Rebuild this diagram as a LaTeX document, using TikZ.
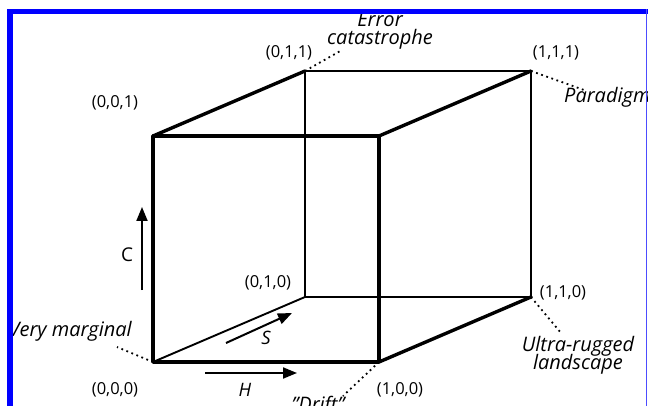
\documentclass[tikz,border=0pt]{standalone}
\usepackage{fontspec}
\setmainfont{Open Sans}
\usetikzlibrary{arrows.meta}
\newcommand\mynotefont{\fontsize{20}{18.5}\selectfont\itshape\lineskiplimit=-30pt\relax}
\begin{document}
\begin{tikzpicture}[x=1pt,y=-1pt,
  thickedge/.style={line width=3.4pt, line cap=round, line join=round},
  midedge/.style={line width=2.4pt},
  thinedge/.style={line width=1.9pt},
  hairedge/.style={line width=1.3pt},
  lbl/.style={font=\fontsize{16.5}{18}\selectfont, inner sep=0pt},
  note/.style={font=\mynotefont, inner sep=0pt, align=center},
  axlbl/.style={font=\fontsize{18.5}{20}\selectfont\itshape, inner sep=0pt},
  leader/.style={line width=1.8pt, dash pattern=on 1.8pt off 3.6pt},
  axisarrow/.style={line width=2pt, -{Triangle[length=14pt,width=11pt]}},
  framecol/.style={fill=blue, draw=none},
]
\useasboundingbox (0,0) rectangle (648,406);
\clip (0,0) rectangle (648,406);
\fill[white] (0,0) rectangle (648,406);
% cube vertices
\coordinate (v000) at (153,362);
\coordinate (v100) at (379,362);
\coordinate (v001) at (153,136);
\coordinate (v101) at (379,136);
\coordinate (v011) at (305,71);
\coordinate (v111) at (531,71);
\coordinate (v010) at (305,297);
\coordinate (v110) at (531,297);
% back / hidden edges
\draw[hairedge] (v010) -- (v110);
\draw[thinedge] (v010) -- (v011);
\draw[thinedge] (v000) -- (v010);
\draw[thinedge] (v011) -- (v111);
\draw[midedge] (v111) -- (v110);
% receding edges
\draw[thickedge] (v001) -- (v011);
\draw[thickedge] (v101) -- (v111);
\draw[thickedge] (v100) -- (v110);
% front face
\draw[thickedge] (v000) -- (v100) -- (v101) -- (v001) -- cycle;
% vertex labels
\node[lbl] (l001) at (115,103) {(0,0,1)};
\node[lbl] (l011) at (289,53) {(0,1,1)};
\node[lbl] (l111) at (556,53) {(1,1,1)};
\node[lbl] (l010) at (268,283) {(0,1,0)};
\node[lbl] (l110) at (563,293) {(1,1,0)};
\node[lbl] (l000) at (115,390) {(0,0,0)};
\node[lbl] (l100) at (400,390) {(1,0,0)};
% notes
\node[note, anchor=north] (nerr) at (380,12) {Error\\catastrophe};
\node[note, anchor=base west] (npar) at (564,103) {Paradigm};
\node[note, anchor=base east] (nvm) at (132,336) {Very marginal};
\node[note, anchor=north] (nur) at (578,336) {Ultra-rugged\\landscape};
\node[note, anchor=base] (ndr) at (318,411) {"Drift"};
% leader end points
\coordinate (e011) at (342,50);
\coordinate (e111) at (584,90);
\coordinate (e110) at (561,333);
\coordinate (e000) at (117,347);
\coordinate (e100) at (343,396);
\draw[leader] (v011) -- (e011);
\draw[leader] (v111) -- (e111);
\draw[leader] (v110) -- (e110);
\draw[leader] (v000) -- (e000);
\draw[leader] (v100) -- (e100);
% axes
\coordinate (h0) at (205,373);
\coordinate (h1) at (297,373);
\coordinate (s0) at (226,343);
\coordinate (s1) at (292,313);
\coordinate (c0) at (142,290);
\coordinate (c1) at (142,207);
\draw[axisarrow] (h0) -- (h1);
\draw[axisarrow] (s0) -- (s1);
\draw[axisarrow] (c0) -- (c1);
\node[axlbl] (lh) at (245,390) {H};
\node[axlbl] (ls) at (266,338) {S};
\node[axlbl, font=\fontsize{19}{20}\selectfont] (lc) at (127,255) {C};
% frame
\fill[framecol] (7,9.5) rectangle (13,406);
\fill[framecol] (7,9.5) rectangle (648,14.3);
\draw[blue!70, line width=1pt] (646,9.5) -- (646,406);
\end{tikzpicture}
\end{document}
